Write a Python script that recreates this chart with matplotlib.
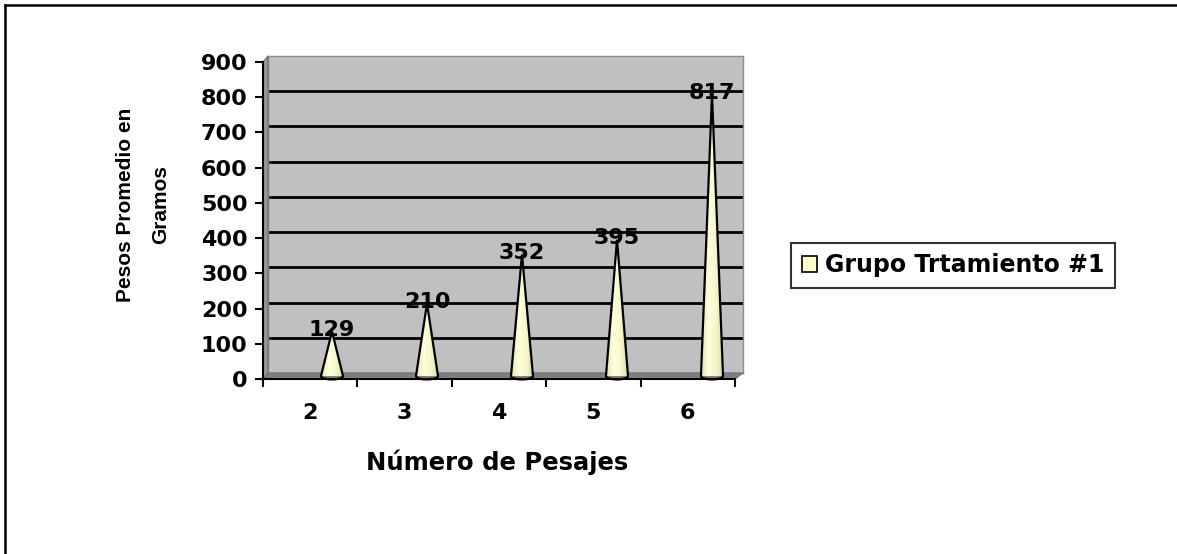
import numpy as np
import matplotlib
matplotlib.use("Agg")
import matplotlib.pyplot as plt
from matplotlib.patches import Polygon, Patch, PathPatch
from matplotlib.path import Path
from matplotlib.colors import LinearSegmentedColormap
from matplotlib.lines import Line2D

plt.rcParams['font.family'] = ['DejaVu Sans']
plt.rcParams['font.weight'] = 'bold'

# datos
categorias = ['2', '3', '4', '5', '6']
pesos = [129, 210, 352, 395, 817]
serie = 'Grupo Trtamiento #1'
y_ticks = [0, 100, 200, 300, 400, 500, 600, 700, 800, 900]

W, H = 1177, 554
FS = 16
fig = plt.figure(figsize=(W / 100, H / 100), dpi=100)
fig.patch.set_facecolor('white')

def rect(l, r, t, b):
    return [l / W, 1 - b / H, (r - l) / W, (b - t) / H]

n = len(categorias)
xs = np.arange(n)

# pared del fondo (gris) con lineas de division
ax_wall = fig.add_axes(rect(268, 743, 56, 373), zorder=0)
ax_wall.set_facecolor('#C0C0C0')
ax_wall.set_xlim(-0.5, n - 0.5)
ax_wall.set_ylim(0, 900)
for v in y_ticks[1:-1]:
    ax_wall.axhline(v, color='black', lw=2)
ax_wall.set_xticks([])
ax_wall.set_yticks([])
for s in ax_wall.spines.values():
    s.set_color('#8C8C8C')
    s.set_linewidth(1)

# eje frontal
ax = fig.add_axes(rect(263, 735, 62, 379), zorder=1)
ax.set_facecolor('none')
ax.set_xlim(-0.5, n - 0.5)
ax.set_ylim(0, 900)
ax.spines['top'].set_visible(False)
ax.spines['right'].set_visible(False)
ax.spines['left'].set_linewidth(1.5)
ax.spines['bottom'].set_linewidth(1.5)
ax.set_yticks(y_ticks)
ax.set_yticklabels([str(v) for v in y_ticks], fontsize=FS, fontweight='bold')
ax.tick_params(axis='y', direction='out', length=6, width=1.5, pad=5)
ax.set_xticks(xs)
ax.set_xticklabels(categorias, fontsize=FS, fontweight='bold')
ax.set_xticks(np.arange(n + 1) - 0.5, minor=True)
ax.tick_params(axis='x', which='major', length=0, pad=17)
ax.tick_params(axis='x', which='minor', direction='out', length=6, width=1.5)

# piso y pared lateral
pf = ax.get_position()
pw = ax_wall.get_position()
floor = Polygon([(pf.x0, pf.y0), (pf.x1, pf.y0), (pw.x1, pw.y0), (pw.x0, pw.y0)],
                closed=True, transform=fig.transFigure, facecolor='#808080',
                edgecolor='#6E6E6E', lw=0.8, zorder=0.5)
side = Polygon([(pf.x0, pf.y0), (pf.x0, pf.y1), (pw.x0, pw.y1), (pw.x0, pw.y0)],
               closed=True, transform=fig.transFigure, facecolor='#969696',
               edgecolor='#6E6E6E', lw=0.8, zorder=0.5)
fig.patches.extend([floor, side])

# conos
ax_c = fig.add_axes(rect(284.5, 759.5, 65.5, 376), zorder=2)
ax_c.set_facecolor('none')
ax_c.axis('off')
ax_c.set_xlim(-0.5, n - 0.5)
ax_c.set_ylim(0, 900)

cmap = LinearSegmentedColormap.from_list('cono', ['#E4E4B2', '#FFFFDC', '#F6F6CA', '#D6D6A2'])
grad = np.linspace(0, 1, 64).reshape(1, -1)
hw = 0.116
e = 10.0
t = np.linspace(0, np.pi, 30)
for x, v in zip(xs, pesos):
    verts = [(x - hw, 0), (x, v), (x + hw, 0)]
    verts += list(zip(x + hw * np.cos(t), -e * np.sin(t)))
    codes = [Path.MOVETO] + [Path.LINETO] * (len(verts) - 1)
    path = Path(verts + [verts[0]], codes + [Path.CLOSEPOLY])
    im = ax_c.imshow(grad, cmap=cmap, aspect='auto', extent=[x - hw, x + hw, -e, v],
                     zorder=2, clip_on=True)
    pp = PathPatch(path, facecolor='none', edgecolor='black', lw=1.6, zorder=3,
                   clip_on=False)
    ax_c.add_patch(pp)
    im.set_clip_path(pp)
    ax_c.annotate(str(v), (x, v), xytext=(0, 1), textcoords='offset points',
                  ha='center', va='center', fontsize=FS, fontweight='bold',
                  zorder=4, annotation_clip=False)
ax_c.set_xlim(-0.5, n - 0.5)
ax_c.set_ylim(0, 900)

# titulos de ejes
fig.text(497 / W, 1 - 462 / H, 'Número de Pesajes', ha='center', va='center',
         fontsize=17.5, fontweight='bold')
fig.text(143 / W, 1 - 205 / H, 'Pesos Promedio en\nGramos', ha='center', va='center',
         rotation=90, multialignment='center', fontsize=15, fontweight='bold',
         family=['Liberation Sans', 'DejaVu Sans'], linespacing=2.1)

# leyenda
handle = Patch(facecolor='#FFFFCC', edgecolor='black', lw=1.2)
leg = fig.legend([handle], [serie], loc='center',
                 bbox_to_anchor=((786 + 1120) / 2 / W, 1 - 265.5 / H),
                 prop={'size': 17, 'weight': 'bold'}, frameon=True, fancybox=False,
                 handlelength=0.65, handleheight=0.65, handletextpad=0.35,
                 borderpad=0.45, borderaxespad=0)
leg.get_frame().set_edgecolor('black')
leg.get_frame().set_linewidth(1.5)

# borde del grafico (solo arriba e izquierda visibles)
fig.add_artist(Line2D([5 / W, 5 / W], [0, 1 - 5 / H], color='black', lw=1.8,
                      transform=fig.transFigure))
fig.add_artist(Line2D([5 / W, 1], [1 - 5 / H, 1 - 5 / H], color='black', lw=1.8,
                      transform=fig.transFigure))

fig.savefig('out.png', dpi=100)
